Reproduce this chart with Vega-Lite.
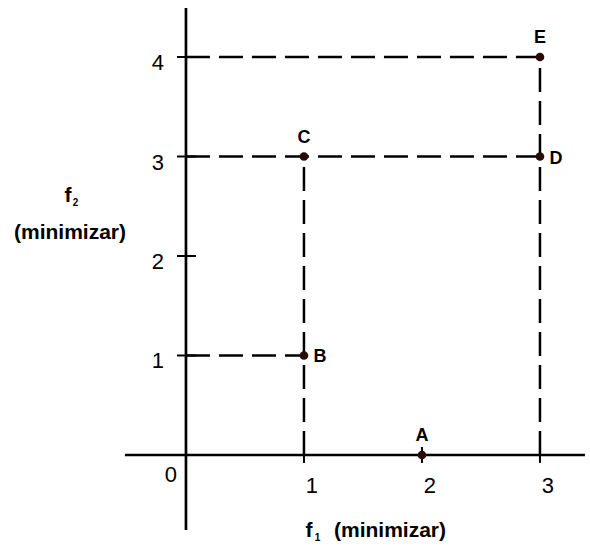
{
  "$schema": "https://vega.github.io/schema/vega-lite/v6.json",
  "width": 590,
  "height": 549,
  "padding": 0,
  "autosize": "none",
  "background": "white",
  "config": {"view": {"stroke": null}, "text": {"font": "Liberation Sans"}},
  "datasets": {
    "axes": [
      {"x": 0, "x2": 0, "y": -0.754, "y2": 4.492},
      {"x": -0.517, "x2": 3.381, "y": 0, "y2": 0}
    ],
    "yticks": [{"v": 1}, {"v": 2}, {"v": 3}, {"v": 4}],
    "xticks": [{"v": 1}, {"v": 2}, {"v": 3}],
    "dashes": [
      {"x": 0, "x2": 3, "y": 4, "y2": 4},
      {"x": 0, "x2": 3, "y": 3, "y2": 3},
      {"x": 0, "x2": 1, "y": 1, "y2": 1},
      {"x": 1, "x2": 1, "y": 0, "y2": 3},
      {"x": 3, "x2": 3, "y": 0, "y2": 4}
    ],
    "points": [
      {"name": "A", "f1": 2, "f2": 0, "pos": "above"},
      {"name": "B", "f1": 1, "f2": 1, "pos": "right"},
      {"name": "C", "f1": 1, "f2": 3, "pos": "above"},
      {"name": "D", "f1": 3, "f2": 3, "pos": "right"},
      {"name": "E", "f1": 3, "f2": 4, "pos": "above"}
    ],
    "titles": [
      {"text": "f", "x": -1.0, "y": 2.543, "role": "main"},
      {"text": "2", "x": -0.935, "y": 2.503, "role": "sub"},
      {"text": "(minimizar)", "x": -0.983, "y": 2.171, "role": "main"},
      {"text": "f", "x": 1.042, "y": -0.824, "role": "main"},
      {"text": "1", "x": 1.115, "y": -0.864, "role": "sub"},
      {"text": "(minimizar)", "x": 1.729, "y": -0.824, "role": "main"}
    ]
  },
  "encoding": {},
  "layer": [
    {
      "data": {"name": "dashes"},
      "mark": {"type": "rule", "color": "black", "strokeWidth": 2.5, "strokeDash": [24, 9]},
      "encoding": {
        "x": {"field": "x", "type": "quantitative", "scale": {"domain": [-1.576, 3.424], "nice": false, "zero": false}, "axis": null},
        "x2": {"field": "x2"},
        "y": {"field": "y", "type": "quantitative", "scale": {"domain": [-0.945, 4.573], "nice": false, "zero": false}, "axis": null},
        "y2": {"field": "y2"}
      }
    },
    {
      "data": {"name": "axes"},
      "mark": {"type": "rule", "color": "black", "strokeWidth": 2.7},
      "encoding": {
        "x": {"field": "x", "type": "quantitative"},
        "x2": {"field": "x2"},
        "y": {"field": "y", "type": "quantitative"},
        "y2": {"field": "y2"}
      }
    },
    {
      "data": {"name": "yticks"},
      "mark": {"type": "rule", "color": "black", "strokeWidth": 2},
      "encoding": {
        "x": {"datum": -0.076, "type": "quantitative"},
        "x2": {"datum": 0.085},
        "y": {"field": "v", "type": "quantitative"}
      }
    },
    {
      "data": {"name": "xticks"},
      "mark": {"type": "rule", "color": "black", "strokeWidth": 2},
      "encoding": {
        "x": {"field": "v", "type": "quantitative"},
        "y": {"datum": -0.08, "type": "quantitative"},
        "y2": {"datum": 0.08}
      }
    },
    {
      "data": {"name": "yticks"},
      "mark": {"type": "text", "fontSize": 22, "align": "center", "baseline": "middle", "dx": -28, "dy": 6, "color": "black"},
      "encoding": {
        "x": {"datum": 0, "type": "quantitative"},
        "y": {"field": "v", "type": "quantitative"},
        "text": {"field": "v"}
      }
    },
    {
      "data": {"name": "xticks"},
      "mark": {"type": "text", "fontSize": 22, "align": "center", "baseline": "middle", "dx": 8, "dy": 31, "color": "black"},
      "encoding": {
        "x": {"field": "v", "type": "quantitative"},
        "y": {"datum": 0, "type": "quantitative"},
        "text": {"field": "v"}
      }
    },
    {
      "data": {"values": [{"v": 0}]},
      "mark": {"type": "text", "fontSize": 22, "align": "center", "baseline": "middle", "dx": -15, "dy": 20, "color": "black"},
      "encoding": {
        "x": {"field": "v", "type": "quantitative"},
        "y": {"field": "v", "type": "quantitative"},
        "text": {"field": "v"}
      }
    },
    {
      "data": {"name": "points"},
      "mark": {"type": "circle", "size": 75, "opacity": 1, "color": "#2b0a0a"},
      "encoding": {
        "x": {"field": "f1", "type": "quantitative"},
        "y": {"field": "f2", "type": "quantitative"}
      }
    },
    {
      "data": {"name": "points"},
      "transform": [{"filter": "datum.pos === 'above'"}],
      "mark": {"type": "text", "fontSize": 18, "fontWeight": "bold", "align": "center", "baseline": "middle", "dy": -19, "color": "black"},
      "encoding": {
        "x": {"field": "f1", "type": "quantitative"},
        "y": {"field": "f2", "type": "quantitative"},
        "text": {"field": "name"}
      }
    },
    {
      "data": {"name": "points"},
      "transform": [{"filter": "datum.pos === 'right'"}],
      "mark": {"type": "text", "fontSize": 18, "fontWeight": "bold", "align": "center", "baseline": "middle", "dx": 16, "dy": 2, "color": "black"},
      "encoding": {
        "x": {"field": "f1", "type": "quantitative"},
        "y": {"field": "f2", "type": "quantitative"},
        "text": {"field": "name"}
      }
    },
    {
      "data": {"name": "titles"},
      "transform": [{"filter": "datum.role === 'main'"}],
      "mark": {"type": "text", "fontSize": 21, "fontWeight": "bold", "align": "center", "baseline": "alphabetic", "color": "black"},
      "encoding": {
        "x": {"field": "x", "type": "quantitative"},
        "y": {"field": "y", "type": "quantitative"},
        "text": {"field": "text"}
      }
    },
    {
      "data": {"name": "titles"},
      "transform": [{"filter": "datum.role === 'sub'"}],
      "mark": {"type": "text", "fontSize": 10, "fontWeight": "bold", "align": "center", "baseline": "alphabetic", "color": "black"},
      "encoding": {
        "x": {"field": "x", "type": "quantitative"},
        "y": {"field": "y", "type": "quantitative"},
        "text": {"field": "text"}
      }
    }
  ]
}
